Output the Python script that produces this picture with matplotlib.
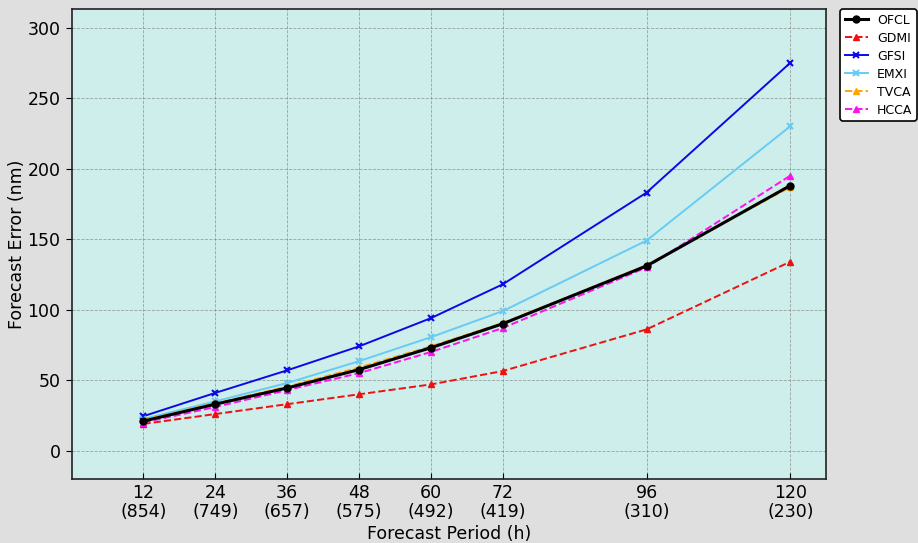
import matplotlib
matplotlib.use("Agg")
import matplotlib.pyplot as plt

hours = [12, 24, 36, 48, 60, 72, 96, 120]
counts = [854, 749, 657, 575, 492, 419, 310, 230]

ofcl = [21, 33, 44.5, 57.5, 73, 90, 131, 188]
gdmi = [19, 26, 33, 40, 47, 56.5, 86, 134]
gfsi = [24.5, 41, 57, 74, 94, 118, 183, 275]
emxi = [22.5, 35, 48, 63.5, 80.5, 99, 149, 230]
tvca = [22, 33.5, 45.5, 59, 74, 90.5, 131.5, 187]
hcca = [20, 31, 43, 55, 70, 87, 130, 195]

tick_labels = [f"{h}\n({c})" for h, c in zip(hours, counts)]

fig, ax = plt.subplots(figsize=(9.18, 5.43), dpi=100)
fig.patch.set_facecolor("#dfdfdf")
ax.set_facecolor("#cdeeea")

ax.plot(hours, ofcl, color="black", marker="o", markersize=5, linewidth=2.2, label="OFCL", zorder=5)
ax.plot(hours, gdmi, color="#ee1111", marker="^", markersize=5, linewidth=1.4, linestyle="--", label="GDMI")
ax.plot(hours, gfsi, color="#0a0ae6", marker="x", markersize=4, markeredgewidth=1.5, linewidth=1.4, label="GFSI")
ax.plot(hours, emxi, color="#66ccf5", marker="x", markersize=4, markeredgewidth=1.5, linewidth=1.4, label="EMXI")
ax.plot(hours, tvca, color="orange", marker="^", markersize=5, linewidth=1.4, linestyle="--", label="TVCA")
ax.plot(hours, hcca, color="#ff11ee", marker="^", markersize=5, linewidth=1.4, linestyle="--", label="HCCA")

ax.set_xlim(0, 126)
ax.set_ylim(-20, 313)
ax.set_xticks(hours)
ax.set_xticklabels(tick_labels, linespacing=1.05)
ax.set_yticks(range(0, 301, 50))
ax.tick_params(labelsize=12.5)
ax.tick_params(axis="x", direction="in", length=4, pad=4)
ax.tick_params(axis="y", direction="out", length=4, pad=4)
ax.set_xlabel("Forecast Period (h)", fontsize=12.5, labelpad=3)
ax.set_ylabel("Forecast Error (nm)", fontsize=12.5, labelpad=1)
ax.grid(True, linestyle="--", color="gray", linewidth=0.6, alpha=0.7)
for s in ax.spines.values():
    s.set_color("#222222")
    s.set_linewidth(1.2)

leg = ax.legend(loc="upper left", bbox_to_anchor=(1.0186, 1.0), borderaxespad=0,
                fontsize=9, labelspacing=0.4, handlelength=1.9, handletextpad=0.7,
                borderpad=0.35, frameon=True, edgecolor="black", facecolor="white",
                framealpha=1)
leg.get_frame().set_linewidth(1.2)

fig.subplots_adjust(left=0.078, right=0.9, top=0.983, bottom=0.118)
fig.savefig("out.png", dpi=100, facecolor=fig.get_facecolor())
